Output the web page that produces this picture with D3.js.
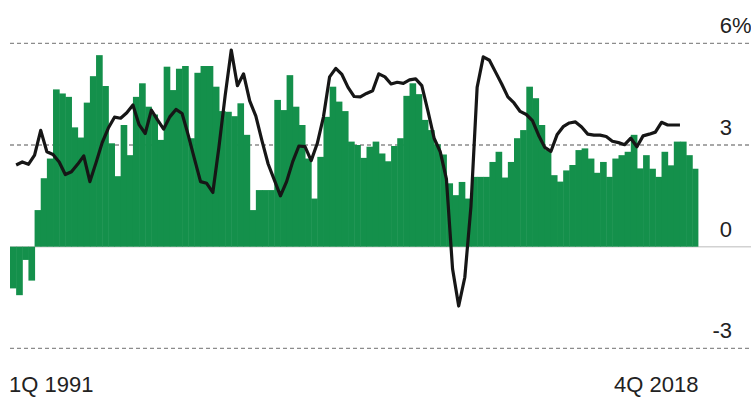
<!DOCTYPE html>
<html>
<head>
<meta charset="utf-8">
<script src="https://cdn.jsdelivr.net/npm/d3@7"></script>
<style>
  html, body { margin: 0; padding: 0; background: #fff; }
  svg { display: block; }
  text { font-family: "Liberation Sans", Arial, Helvetica, sans-serif; fill: #222; }
</style>
</head>
<body>
<svg id="chart" width="751" height="400"></svg>
<script>
// Quarterly growth rates (%), 1Q 1991 – 4Q 2018
const firstYear = 1991;
const lastYear = 2018;

// Green bars: one value per quarter
const barValues = [
  -1.23, -1.43, -0.39, -1.00, 1.08, 2.02, 2.60, 4.64, 4.52, 4.42,
  3.52, 3.22, 4.25, 5.03, 5.65, 4.74, 3.05, 2.08, 3.59, 2.70,
  4.42, 4.82, 4.13, 3.90, 3.15, 5.31, 4.62, 5.25, 5.33, 3.20,
  5.13, 5.33, 5.33, 4.72, 4.00, 3.98, 3.85, 4.23, 3.30, 1.08,
  1.67, 1.67, 1.67, 4.33, 4.03, 5.06, 4.13, 3.59, 2.60, 1.42,
  2.65, 3.83, 4.72, 4.28, 4.00, 3.10, 3.00, 2.62, 2.95, 3.10,
  2.75, 2.52, 2.97, 3.20, 4.45, 4.82, 4.50, 3.74, 3.44, 3.02,
  2.72, 1.87, 1.52, 1.91, 1.42, 2.06, 2.06, 2.06, 2.50, 2.80,
  2.04, 2.50, 3.20, 3.44, 4.72, 4.38, 3.59, 2.85, 2.11, 1.92,
  2.25, 2.41, 2.85, 2.90, 2.60, 2.18, 2.50, 2.06, 2.60, 2.70,
  2.80, 3.30, 2.31, 2.70, 2.30, 2.06, 2.80, 2.40, 3.10, 3.10,
  2.70, 2.30
];

// Black line: one value per quarter, ending earlier than the bars
const lineValues = [
  2.41, 2.50, 2.43, 2.70, 3.43, 2.80, 2.72, 2.50, 2.13, 2.21,
  2.43, 2.68, 1.92, 2.48, 3.07, 3.50, 3.82, 3.79, 3.95, 4.18,
  3.60, 3.34, 4.03, 3.74, 3.47, 3.83, 4.05, 3.93, 3.29, 2.60,
  1.92, 1.87, 1.60, 2.95, 4.45, 5.80, 4.75, 5.10, 4.30, 3.85,
  3.12, 2.44, 1.97, 1.50, 1.92, 2.51, 2.97, 2.95, 2.54, 3.05,
  3.83, 5.01, 5.26, 5.08, 4.70, 4.43, 4.42, 4.52, 4.60, 5.10,
  5.01, 4.80, 4.85, 4.82, 4.92, 4.95, 4.75, 4.00, 3.20, 2.80,
  2.00, -0.65, -1.75, -0.90, 1.20, 4.70, 5.60, 5.50, 5.15, 4.80,
  4.42, 4.24, 3.99, 3.90, 3.72, 3.29, 2.93, 2.81, 3.30, 3.54,
  3.65, 3.68, 3.53, 3.32, 3.29, 3.29, 3.25, 3.11, 3.07, 3.01,
  3.20, 2.95, 3.27, 3.32, 3.38, 3.67, 3.59, 3.59, 3.59
];

// Gridlines and their labels
const gridTicks = [6, 3, -3];
const tickLabels = ["6", "3", "0", "-3"];
const tickLabelValues = [6, 3, 0, -3];
const axisStart = "1Q 1991";
const axisEnd = "4Q 2018";

// Quarter categories
const quarters = [];
for (let y = firstYear; y <= lastYear; y++) {
  for (let q = 1; q <= 4; q++) quarters.push(q + "Q " + y);
}

const svg = d3.select("#chart");
const left = 10, right = 698.4;

const x = d3.scaleBand().domain(quarters).range([left, right]).padding(0);
const y = d3.scaleLinear().domain([-3, 6]).range([348.4, 43.3]);
const bw = x.bandwidth();

// Dashed gridlines
svg.append("g")
  .selectAll("line")
  .data(gridTicks)
  .join("line")
  .attr("x1", left)
  .attr("x2", 751)
  .attr("y1", d => y(d))
  .attr("y2", d => y(d))
  .attr("stroke", "#8c8c8c")
  .attr("stroke-width", 1.3)
  .attr("stroke-dasharray", "4,3");

// Zero baseline
svg.append("line")
  .attr("x1", left)
  .attr("x2", 751)
  .attr("y1", y(0))
  .attr("y2", y(0))
  .attr("stroke", "#d2d2d2")
  .attr("stroke-width", 1.6);

// Bars
svg.append("g")
  .selectAll("rect")
  .data(barValues)
  .join("rect")
  .attr("x", (d, i) => x(quarters[i]))
  .attr("width", (d, i) => i === barValues.length - 1 ? bw : bw + 0.5)
  .attr("y", d => y(Math.max(0, d)))
  .attr("height", d => Math.abs(y(d) - y(0)))
  .attr("fill", "#14904b");

// Line, plotted at the end of each quarter
const line = d3.line()
  .x((d, i) => x(quarters[i]) + bw)
  .y(d => y(d));

svg.append("path")
  .datum(lineValues)
  .attr("d", line)
  .attr("fill", "none")
  .attr("stroke", "#161616")
  .attr("stroke-width", 3.2)
  .attr("stroke-linejoin", "round");

// Right-hand tick labels
const labels = svg.append("g").attr("font-size", 22);
labels.selectAll("text.tick")
  .data(tickLabelValues)
  .join("text")
  .attr("class", "tick")
  .attr("x", 732)
  .attr("y", d => y(d) - 10)
  .attr("text-anchor", "end")
  .text((d, i) => tickLabels[i]);
labels.append("text")
  .attr("x", 732)
  .attr("y", y(6) - 10)
  .attr("text-anchor", "start")
  .text("%");

// Start and end period labels
svg.append("text")
  .attr("x", 9)
  .attr("y", 392)
  .attr("font-size", 22)
  .text(axisStart);
svg.append("text")
  .attr("x", right)
  .attr("y", 392)
  .attr("font-size", 22)
  .attr("text-anchor", "end")
  .text(axisEnd);
</script>
</body>
</html>
